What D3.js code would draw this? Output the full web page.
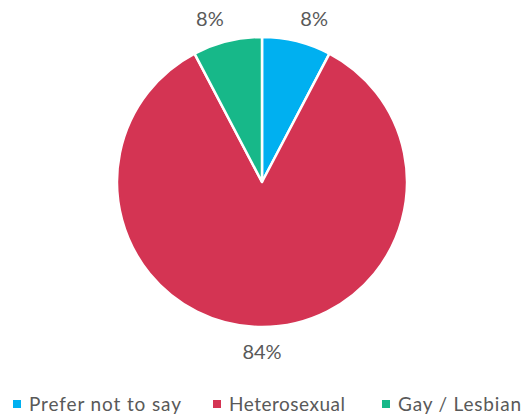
<!DOCTYPE html>
<html>
<head>
<meta charset="utf-8">
<script src="https://cdn.jsdelivr.net/npm/d3@7"></script>
<style>
html,body{margin:0;padding:0;background:#fff;}
svg{display:block;}
</style>
</head>
<body>
<svg id="chart" width="525" height="420"></svg>
<script>
const categories = ["Prefer not to say", "Heterosexual", "Gay / Lesbian"];
const values = [7.7, 84.6, 7.7];
const labels = ["8%", "84%", "8%"];
const colors = ["#00B0F0", "#D43453", "#17B889"];

const svg = d3.select("#chart");
const cx = 262, cy = 182, r = 145;
const g = svg.append("g").attr("transform", `translate(${cx},${cy})`);

const pie = d3.pie().sort(null).value(d => d.v);
const data = pie(categories.map((c, i) => ({c, v: values[i], l: labels[i], col: colors[i]})));
const arc = d3.arc().innerRadius(0).outerRadius(r);

g.selectAll("path").data(data).join("path")
  .attr("d", arc)
  .attr("fill", d => d.data.col)
  .attr("stroke", "#fff")
  .attr("stroke-width", 2.5)
  .attr("stroke-linejoin", "round");

const font = "Lato, 'Noto Sans', sans-serif";
// labels outside: box corner touches anchor point just outside the arc
const labelArc = d3.arc().innerRadius(r + 15).outerRadius(r + 15);
const boxH = 17;
g.selectAll("text.lbl").data(data).join("text")
  .attr("class", "lbl")
  .attr("x", d => labelArc.centroid(d)[0])
  .attr("y", d => {
    const a = (d.startAngle + d.endAngle) / 2;
    return labelArc.centroid(d)[1] - Math.cos(a) * boxH / 2;
  })
  .attr("text-anchor", d => {
    const s = Math.sin((d.startAngle + d.endAngle) / 2);
    return s > 0.15 ? "start" : (s < -0.15 ? "end" : "middle");
  })
  .attr("dominant-baseline", "central")
  .attr("font-family", font)
  .attr("font-size", 20)
  .attr("fill", "#595959")
  .text(d => d.data.l);

// legend
const legendX = [13, 213, 382];
const legendW = [152, 116, 123];
const leg = svg.append("g");
categories.forEach((c, i) => {
  leg.append("rect").attr("x", legendX[i]).attr("y", 400).attr("width", 8).attr("height", 8).attr("fill", colors[i]);
  leg.append("text").attr("x", legendX[i] + 16).attr("y", 411)
    .attr("font-family", font).attr("font-size", 19).attr("fill", "#595959")
    .attr("textLength", legendW[i]).attr("lengthAdjust", "spacing")
    .text(c);
});
</script>
</body>
</html>
